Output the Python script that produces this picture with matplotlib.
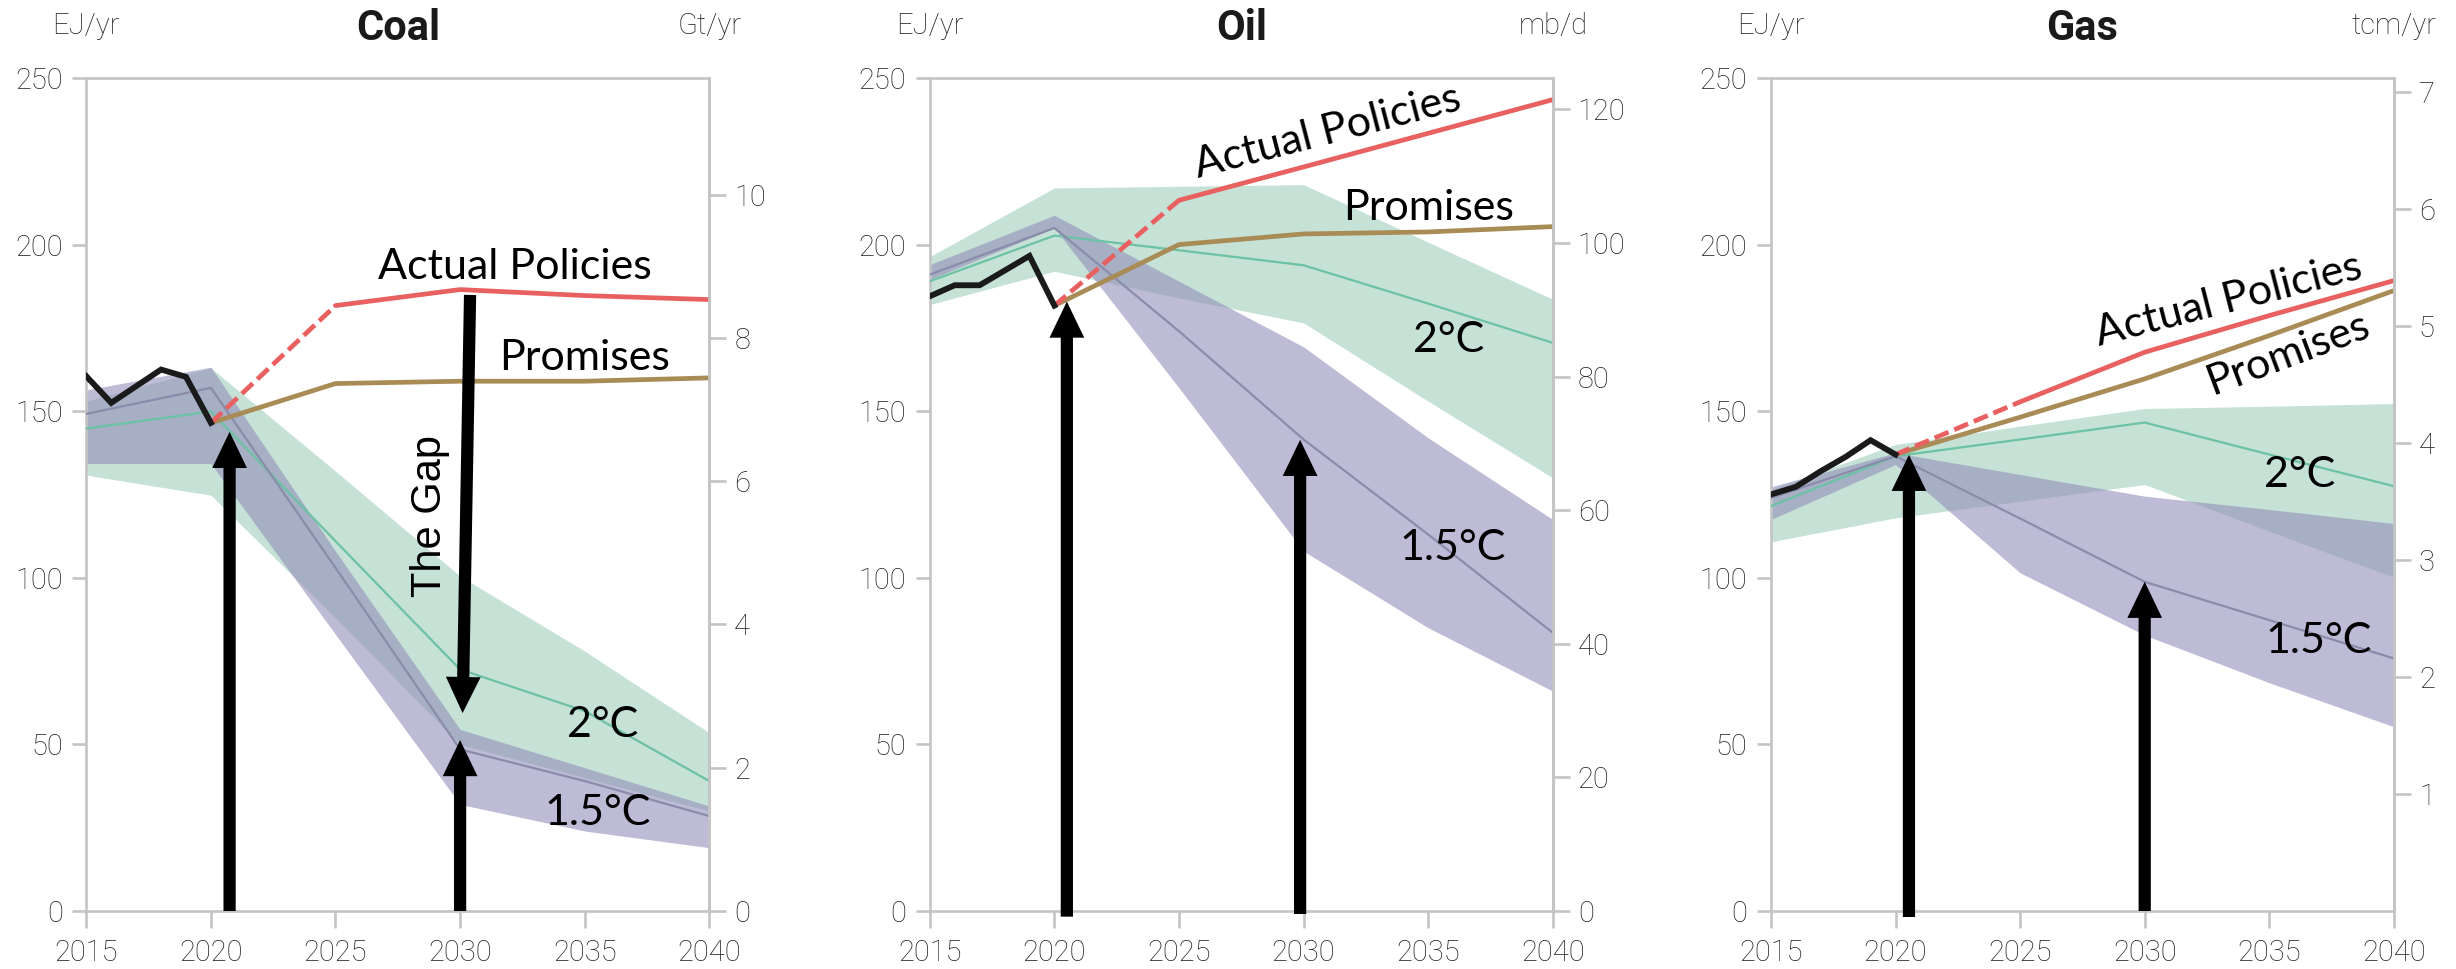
import matplotlib
matplotlib.use("Agg")
import matplotlib.pyplot as plt
from matplotlib.patches import ArrowStyle

# ---------------- data ----------------
hist_years = [2015, 2016, 2017, 2018, 2019, 2020]
proj_years = [2020, 2025, 2030, 2035, 2040]
band_years = [2015, 2020, 2025, 2030, 2035, 2040]
x_ticks = [2015, 2020, 2025, 2030, 2035, 2040]
y_ticks = [0, 50, 100, 150, 200, 250]

# Coal (EJ/yr)
coal_hist = [160.5, 152.5, 157.5, 162.5, 160.3, 146.5]
coal_actual = [146.5, 181.7, 186.5, 184.7, 183.5]
coal_promises = [146.5, 158.3, 159.0, 159.0, 160.0]
coal_2c_low = [130.8, 124.8, 88.0, 50.0, 40.0, 30.0]
coal_2c_mid = [144.8, 149.9, 111.0, 72.5, 60.0, 39.0]
coal_2c_high = [153.0, 163.0, 132.0, 100.5, 78.0, 53.5]
coal_15_low = [134.3, 134.3, 83.0, 32.0, 24.0, 19.0]
coal_15_mid = [149.2, 157.0, 103.0, 48.5, 39.0, 28.5]
coal_15_high = [156.4, 163.2, 108.0, 54.5, 43.0, 31.5]
coal_right_ticks = [0, 2, 4, 6, 8, 10]
coal_ej_per_unit = 21.5

# Oil (EJ/yr)
oil_hist = [184.5, 187.8, 187.8, 192.2, 196.6, 181.7]
oil_actual = [181.7, 213.3, 223.3, 233.4, 243.5]
oil_promises = [181.7, 200.0, 203.2, 203.8, 205.4]
oil_2c_low = [182.0, 192.0, 184.0, 176.5, 153.0, 130.0]
oil_2c_mid = [189.0, 202.7, 198.3, 193.8, 182.3, 170.5]
oil_2c_high = [196.4, 217.0, 217.5, 218.0, 200.7, 183.6]
oil_15_low = [189.5, 205.0, 157.0, 108.0, 85.0, 66.0]
oil_15_mid = [191.0, 205.0, 174.0, 141.5, 113.0, 83.5]
oil_15_high = [194.0, 208.8, 189.0, 169.3, 142.0, 117.5]
oil_right_ticks = [0, 20, 40, 60, 80, 100, 120]
oil_ej_per_unit = 2.005

# Gas (EJ/yr)
gas_hist = [125.0, 127.3, 132.0, 136.3, 141.3, 137.0]
gas_actual = [137.0, 152.8, 167.7, 178.7, 189.2]
gas_promises = [137.0, 148.2, 159.7, 172.7, 186.2]
gas_2c_low = [110.8, 118.0, 123.0, 128.0, 114.0, 100.2]
gas_2c_mid = [121.5, 136.5, 141.5, 146.6, 137.0, 127.5]
gas_2c_high = [126.5, 140.0, 145.5, 150.8, 151.5, 152.3]
gas_15_low = [117.5, 134.0, 101.5, 82.8, 68.5, 55.3]
gas_15_mid = [124.0, 136.5, 117.8, 98.8, 87.3, 75.8]
gas_15_high = [127.3, 137.5, 131.0, 124.5, 120.5, 116.3]
gas_right_ticks = [1, 2, 3, 4, 5, 6, 7]
gas_ej_per_unit = 35.1

titles = ["Coal", "Oil", "Gas"]
left_units = ["EJ/yr", "EJ/yr", "EJ/yr"]
right_units = ["Gt/yr", "mb/d", "tcm/yr"]

# ---------------- styles ----------------
C_RED = "#e8605f"
C_BROWN = "#a98b56"
C_HIST = "#1a1a1a"
C_GREEN_BAND = "#c6e1d6"
C_PURPLE_BAND = "#918eb9"
C_GREEN_LINE = "#6cc2a4"
C_PURPLE_LINE = "#8b8cab"
C_AXIS = "#c4c4c4"
C_TICKTXT = "#222222"

TICK_FONT = dict(family=["Roboto", "DejaVu Sans"], weight="light", size=21)
ANN_FONT = ["Lato", "DejaVu Sans"]
ANN_SIZE = 31

fig = plt.figure(figsize=(24.56, 9.69), dpi=100)

ax_bottom = 1 - 911 / 969
ax_height = (911 - 78) / 969
ax_width = 623 / 2456
lefts = [86.3 / 2456, 929.8 / 2456, 1770.9 / 2456]


def arrow(ax, x0, y0, x1, y1):
    style = ArrowStyle("simple", head_length=26, head_width=25, tail_width=8.8)
    ax.annotate("", xy=(x1, y1), xytext=(x0, y0), xycoords="data",
                arrowprops=dict(arrowstyle=style, mutation_scale=1, fc="black",
                                ec="none", lw=0, shrinkA=0, shrinkB=0),
                annotation_clip=False, zorder=9)


def panel(i, hist, actual, promises, lo2, mid2, hi2, lo15, mid15, hi15,
          rticks, factor):
    ax = fig.add_axes([lefts[i], ax_bottom, ax_width, ax_height])
    ax.set_xlim(2015, 2040)
    ax.set_ylim(0, 250)
    ax.fill_between(band_years, lo2, hi2, color=C_GREEN_BAND, lw=0, zorder=1)
    ax.fill_between(band_years, lo15, hi15, color=C_PURPLE_BAND, alpha=0.6,
                    lw=0, zorder=2)
    ax.plot(band_years, mid2, color=C_GREEN_LINE, lw=1.6, zorder=3)
    ax.plot(band_years, mid15, color=C_PURPLE_LINE, lw=1.6, zorder=3)
    ax.plot(proj_years, promises, color=C_BROWN, lw=3.4, zorder=4,
            solid_capstyle="butt")
    ax.plot(proj_years[:2], actual[:2], color=C_RED, lw=3.4, zorder=5,
            dashes=(3.2, 1.3))
    ax.plot(proj_years[1:], actual[1:], color=C_RED, lw=3.4, zorder=5,
            solid_capstyle="round")
    ax.plot(hist_years, hist, color=C_HIST, lw=4.2, zorder=6,
            solid_joinstyle="miter")

    ax.set_xticks(x_ticks)
    ax.set_yticks(y_ticks)
    ax.set_xticklabels([str(v) for v in x_ticks], fontdict=TICK_FONT,
                       color=C_TICKTXT)
    ax.set_yticklabels([str(v) for v in y_ticks], fontdict=TICK_FONT,
                       color=C_TICKTXT)
    ax.tick_params(axis="y", length=10, width=1.9, color=C_AXIS, pad=7)
    ax.tick_params(axis="x", length=12, width=1.9, color=C_AXIS, pad=8)
    for s in ax.spines.values():
        s.set_color(C_AXIS)
        s.set_linewidth(1.9)

    ax2 = ax.twinx()
    ax2.set_ylim(0, 250 / factor)
    ax2.set_yticks(rticks)
    ax2.set_yticklabels([str(v) for v in rticks], fontdict=TICK_FONT,
                        color=C_TICKTXT)
    ax2.tick_params(axis="y", length=12, width=1.9, color=C_AXIS, pad=6)
    for name, s in ax2.spines.items():
        s.set_visible(name == "right")
        s.set_color(C_AXIS)
        s.set_linewidth(1.9)

    ax.text(0.5, 1.0456, titles[i], transform=ax.transAxes, ha="center",
            va="baseline", fontsize=30, fontweight="bold",
            family=["Roboto", "DejaVu Sans"], color="#1a1a1a")
    ax.text(0.0, 1.0525, left_units[i], transform=ax.transAxes, ha="center",
            va="baseline", fontdict=TICK_FONT, color=C_TICKTXT)
    ax.text(1.0, 1.0525, right_units[i], transform=ax.transAxes, ha="center",
            va="baseline", fontdict=TICK_FONT, color=C_TICKTXT)
    return ax


def label(ax, x, y, s, rot=0):
    ax.text(x, y, s, ha="center", va="baseline", rotation=rot,
            rotation_mode="anchor", fontsize=ANN_SIZE, family=ANN_FONT,
            color="black", zorder=10)


# Coal
ax = panel(0, coal_hist, coal_actual, coal_promises, coal_2c_low, coal_2c_mid,
           coal_2c_high, coal_15_low, coal_15_mid, coal_15_high,
           coal_right_ticks, coal_ej_per_unit)
label(ax, 2032.2, 189.7, "Actual Policies")
label(ax, 2035.0, 162.3, "Promises")
label(ax, 2035.7, 52.2, "2°C")
label(ax, 2035.5, 25.8, "1.5°C")
ax.text(2028.8, 118.5, "The Gap", rotation=90, ha="center", va="center",
        fontsize=30, family=["Liberation Sans", "DejaVu Sans"], zorder=10)
arrow(ax, 2020.75, 0, 2020.75, 143.8)
arrow(ax, 2030.0, 0, 2030.0, 51.3)
arrow(ax, 2030.4, 184.9, 2030.1, 59.4)

# Oil
ax = panel(1, oil_hist, oil_actual, oil_promises, oil_2c_low, oil_2c_mid,
           oil_2c_high, oil_15_low, oil_15_mid, oil_15_high,
           oil_right_ticks, oil_ej_per_unit)
label(ax, 2031.1, 230.3, "Actual Policies", rot=14.5)
label(ax, 2035.0, 207.4, "Promises")
label(ax, 2035.8, 167.8, "2°C")
label(ax, 2036.0, 105.3, "1.5°C")
arrow(ax, 2020.5, -1.7, 2020.5, 182.9)
arrow(ax, 2029.86, -0.9, 2029.86, 141.4)

# Gas
ax = panel(2, gas_hist, gas_actual, gas_promises, gas_2c_low, gas_2c_mid,
           gas_2c_high, gas_15_low, gas_15_mid, gas_15_high,
           gas_right_ticks, gas_ej_per_unit)
label(ax, 2033.5, 179.9, "Actual Policies", rot=14.4)
label(ax, 2035.9, 163.9, "Promises", rot=20.5)
label(ax, 2036.2, 127.3, "2°C")
label(ax, 2037.0, 77.4, "1.5°C")
arrow(ax, 2020.54, -1.8, 2020.54, 136.9)
arrow(ax, 2030.0, 0, 2030.0, 98.8)

fig.savefig("out.png", dpi=100, facecolor="white")
